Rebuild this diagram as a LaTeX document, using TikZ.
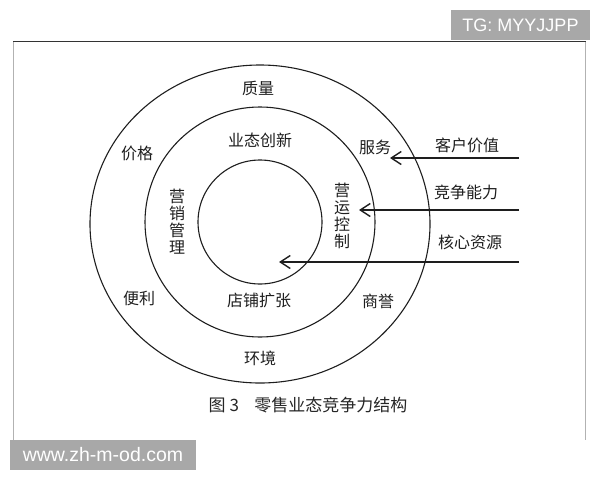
\documentclass[tikz,border=0pt]{standalone}
\usepackage{fontspec}
\setmainfont{Noto Sans CJK SC}
\newfontfamily\marksans{Liberation Sans}
\usetikzlibrary{shapes,arrows.meta}
\definecolor{stampgray}{HTML}{A8A8A8}
\definecolor{ink}{HTML}{1E1E1E}
\tikzstyle{ring} = [draw=ink, line width=1.1pt]
\tikzstyle{word} = [text=ink, inner sep=0pt, font=\fontsize{16}{17}\selectfont]
\tikzstyle{upright} = [word, align=center]
\tikzstyle{line} = [draw=ink, line width=1.4pt,
    -{Straight Barb[length=10pt, width=13pt, line width=1.4pt]}]
\tikzstyle{stamp} = [fill=stampgray, text=white, inner sep=0pt,
    minimum height=30pt, font=\marksans\fontsize{18}{18}\selectfont]

\begin{document}
\begin{tikzpicture}[x=1pt, y=-1pt]
    \useasboundingbox (0,0) rectangle (600,480);

    % Place frame and marks
    \draw [gray!60, line width=0.8pt] (13.5,41) -- (13.5,440);
    \draw [gray!60, line width=0.8pt] (585.5,41) -- (585.5,440);
    \draw [black!80, line width=1pt] (13,41) -- (586,41);
    \node [stamp, minimum width=139pt] (tg) at (520.5,25) {TG: MYYJJPP};
    \node [stamp, minimum width=186pt, font=\marksans\fontsize{19.5}{19.5}\selectfont]
        (site) at (103,455) {www.zh-m-od.com};

    % Place rings
    \coordinate (c) at (260,222);
    \draw [ring] (c) circle [radius=62];
    \draw [ring] (c) circle [radius=115];
    \draw [ring] (260,224) ellipse [x radius=170, y radius=159];

    % Place ring labels
    \node [word] (zl) at (258,88) {质量};
    \node [word] (jg) at (137,153) {价格};
    \node [word] (fw) at (375,147) {服务};
    \node [word] (bl) at (139,298) {便利};
    \node [word] (sy) at (378,301) {商誉};
    \node [word] (hj) at (260,358) {环境};
    \node [word] (ytcx) at (260,140) {业态创新};
    \node [word] (dpkz) at (259,300) {店铺扩张};
    \node [upright] (yxgl) at (177,222) {营\\销\\管\\理};
    \node [upright] (yykz) at (342,216) {营\\运\\控\\制};

    % Place input labels
    \node [word] (khjz) at (467,145) {客户价值};
    \node [word] (jznl) at (466,192) {竞争能力};
    \node [word] (hxzy) at (470,242) {核心资源};

    % Place arrow ends
    \coordinate (in1) at (519,158);
    \coordinate (in2) at (519,210);
    \coordinate (in3) at (519,262);
    \coordinate (tip1) at (390,158);
    \coordinate (tip2) at (359,210);
    \coordinate (tip3) at (279,262);

    % Draw edges
    \path [line] (in1) -- (tip1);
    \path [line] (in2) -- (tip2);
    \path [line] (in3) -- (tip3);

    % Caption
    \node [text=black!85, inner sep=0pt, font=\fontsize{17}{17}\selectfont]
        (cap) at (308,405) {图 3\hspace{0.9em}零售业态竞争力结构};
\end{tikzpicture}
\end{document}
